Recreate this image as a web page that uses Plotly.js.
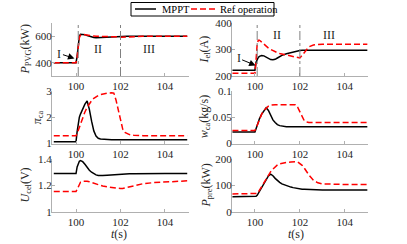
<!DOCTYPE html>
<html>
<head>
<meta charset="utf-8">
<script src="https://cdn.plot.ly/plotly-3.0.1.min.js"></script>
<style>html,body{margin:0;padding:0;background:#fff;}#chart{width:407px;height:244px;}</style>
</head>
<body>
<div id="chart"></div>
<script>
// time axis (s)
var t = [99, 100, 100.05, 100.1, 100.15, 100.2, 100.3, 100.4, 100.5, 100.6, 100.7, 100.8, 100.9, 101, 101.1, 101.2, 101.4, 101.6, 101.7, 101.8, 101.9, 102, 102.1, 102.2, 102.3, 102.4, 102.6, 102.8, 103, 103.5, 104, 104.5, 105];
// P_PVG (kW)
var pPVG_mppt = [400, 400, 450, 540, 600, 615, 616, 612, 605, 598, 593, 590, 589, 590, 591, 593, 596, 598, 598.5, 599, 599.5, 600, 600, 600, 600, 600, 600, 600, 600, 600, 600, 600, 600];
var pPVG_ref  = [400, 400, 440, 520, 590, 608, 614, 612, 608, 605, 603, 601, 600, 600, 600, 600, 600, 600, 599, 598, 595, 592, 593, 596, 598, 599, 600, 600, 600, 600, 600, 600, 600];
// I_el (A)
var iEl_mppt = [222, 222, 252, 265, 270, 274, 277, 276, 271, 266, 262, 261, 263, 268, 273, 278, 284, 289, 291, 293, 294, 296, 297, 297, 297, 297, 297, 297, 297, 297, 297, 297, 297];
var iEl_ref  = [210, 210, 260, 320, 335, 335, 328, 320, 312, 305, 300, 295, 291, 288, 285, 283, 279, 276, 274, 272, 270, 268, 278, 290, 302, 310, 317, 319, 320, 320, 320, 320, 320];
// pi_ca
var piCa_mppt = [1.07, 1.07, 1.45, 1.85, 2.0, 2.12, 2.35, 2.5, 2.62, 2.3, 1.85, 1.48, 1.28, 1.2, 1.17, 1.16, 1.15, 1.14, 1.14, 1.14, 1.14, 1.14, 1.14, 1.14, 1.14, 1.14, 1.14, 1.14, 1.14, 1.14, 1.14, 1.14, 1.14];
var piCa_ref  = [1.3, 1.3, 1.38, 1.5, 1.62, 1.75, 1.98, 2.2, 2.38, 2.52, 2.63, 2.72, 2.78, 2.83, 2.86, 2.89, 2.92, 2.93, 2.92, 2.65, 2.25, 1.83, 1.55, 1.42, 1.37, 1.34, 1.31, 1.3, 1.3, 1.3, 1.3, 1.3, 1.3];
// w_ca (kg/s)
var wCa_mppt = [0.022, 0.022, 0.028, 0.035, 0.041, 0.047, 0.056, 0.063, 0.068, 0.063, 0.053, 0.045, 0.04, 0.036, 0.034, 0.033, 0.032, 0.032, 0.032, 0.032, 0.032, 0.032, 0.032, 0.032, 0.032, 0.032, 0.032, 0.032, 0.032, 0.032, 0.032, 0.032, 0.032];
var wCa_ref  = [0.025, 0.025, 0.029, 0.035, 0.041, 0.047, 0.056, 0.063, 0.068, 0.071, 0.073, 0.074, 0.074, 0.074, 0.074, 0.074, 0.074, 0.074, 0.074, 0.074, 0.069, 0.06, 0.05, 0.043, 0.041, 0.04, 0.04, 0.04, 0.04, 0.04, 0.04, 0.04, 0.04];
// U_cel (V)
var uCel_mppt = [1.29, 1.29, 1.34, 1.37, 1.383, 1.388, 1.38, 1.36, 1.335, 1.315, 1.3, 1.288, 1.28, 1.275, 1.274, 1.275, 1.278, 1.281, 1.283, 1.284, 1.285, 1.286, 1.286, 1.287, 1.287, 1.288, 1.288, 1.289, 1.289, 1.29, 1.29, 1.29, 1.29];
var uCel_ref  = [1.155, 1.155, 1.17, 1.19, 1.21, 1.225, 1.233, 1.235, 1.232, 1.228, 1.222, 1.216, 1.21, 1.205, 1.2, 1.196, 1.19, 1.185, 1.182, 1.18, 1.178, 1.177, 1.178, 1.182, 1.187, 1.192, 1.2, 1.207, 1.213, 1.222, 1.228, 1.232, 1.235];
// P_pre (kW)
var pPre_mppt = [58, 58, 59, 63, 70, 78, 95, 110, 124, 136, 143, 137, 127, 118, 112, 106, 99, 94, 92, 90, 88.5, 87, 86, 85.5, 85, 84.5, 84, 83.5, 83, 83, 83, 83, 83];
var pPre_ref  = [68, 68, 68, 70, 75, 82, 97, 112, 126, 143, 152, 162, 172, 178, 182, 184, 187, 189, 190, 190, 189, 184, 176, 165, 152, 140, 120, 110, 106, 104, 104, 104, 104];

// operating phases
var phaseBounds = [100.1, 102];
var phaseLabels = ['I', 'II', 'III'];
var phaseLabelT = [101.0, 103.3];
var phaseLabelY_top = [505, 505];
var phaseLabelY_iel = [355, 355];
var arrowTip_top = [99.93, 432];
var arrowTip_iel = [100.03, 240];

var seriesNames = ['MPPT', 'Ref operation'];
var tickX = [100, 102, 104];
var yTicks = {y: [400, 600], y2: [200, 300, 400], y3: [1, 2, 3], y4: [0, 0.05, 0.1], y5: [1, 1.2, 1.4], y6: [0, 100, 200]};
var yRanges = {y: [300, 700], y2: [200, 400], y3: [1, 3], y4: [0, 0.1], y5: [1, 1.4], y6: [0, 200]};
var yTitles = {
  y: '<i>P</i><sub>PVG</sub>(kW)', y2: '<i>I</i><sub>el</sub>(A)', y3: '<i>π</i><sub>ca</sub>',
  y4: '<i>w</i><sub>ca</sub>(kg/s)', y5: '<i>U</i><sub>cel</sub>(V)', y6: '<i>P</i><sub>pre</sub>(kW)'
};
var xTitle = '<i>t</i>(s)';

var FONT = 'Liberation Serif, Times New Roman, serif';
var black = {color: '#000000', width: 1.5};
var red = {color: '#ff0000', width: 1.5, dash: '6px,3px'};

var panels = [
  ['x', 'y', pPVG_mppt, pPVG_ref], ['x2', 'y2', iEl_mppt, iEl_ref],
  ['x3', 'y3', piCa_mppt, piCa_ref], ['x4', 'y4', wCa_mppt, wCa_ref],
  ['x5', 'y5', uCel_mppt, uCel_ref], ['x6', 'y6', pPre_mppt, pPre_ref]
];
var data = [];
panels.forEach(function (p) {
  data.push({x: t, y: p[2], xaxis: p[0], yaxis: p[1], type: 'scatter', mode: 'lines', line: black, name: seriesNames[0], showlegend: false});
  data.push({x: t, y: p[3], xaxis: p[0], yaxis: p[1], type: 'scatter', mode: 'lines', line: red, name: seriesNames[1], showlegend: false});
});

var W = 407, H = 244;
function px(v) { return v / W; }
function py(v) { return 1 - v / H; }
var colX = [[52 / W, 189 / W], [232 / W, 368 / W]];
var xRng = [[98.92, 105.08], [98.98, 105.03]];
var rowPx = [[23, 76], [91, 143.5], [159, 212]];
var rowY = rowPx.map(function (r) { return [py(r[1]), py(r[0])]; });
var yTitleX = {y: 25, y2: 204, y3: 38, y4: 205, y5: 25, y6: 206};
var xTitleX = [119, 296];

var layout = {
  width: W, height: H, margin: {l: 0, r: 0, t: 0, b: 0},
  paper_bgcolor: '#ffffff', plot_bgcolor: '#ffffff',
  font: {family: FONT, size: 11, color: '#262626'}, showlegend: false,
  shapes: [], annotations: []
};

var axNames = ['', '2', '3', '4', '5', '6'];
axNames.forEach(function (s, i) {
  var col = i % 2, row = Math.floor(i / 2);
  var yk = 'y' + s;
  layout['xaxis' + s] = {
    domain: colX[col], range: xRng[col], anchor: yk, tickvals: tickX,
    showline: true, linecolor: '#b0b0b0', linewidth: 1, mirror: false,
    ticks: 'inside', ticklen: 3, tickcolor: '#b0b0b0', showgrid: false, zeroline: false,
    tickfont: {family: FONT, size: 11, color: '#262626'}
  };
  layout['yaxis' + s] = {
    domain: rowY[row], range: yRanges[yk], anchor: 'x' + s, tickvals: yTicks[yk],
    showline: true, linecolor: '#b0b0b0', linewidth: 1, mirror: false,
    ticks: 'inside', ticklen: 3, tickcolor: '#b0b0b0', showgrid: false, zeroline: false,
    ticklabelstandoff: -3, tickfont: {family: FONT, size: 11, color: '#262626'}
  };
  // axis titles as rotated text
  layout.annotations.push({xref: 'paper', yref: 'paper', x: px(yTitleX[yk]),
    y: py((rowPx[row][0] + rowPx[row][1]) / 2), xanchor: 'center', yanchor: 'middle',
    textangle: -90, text: yTitles[yk], showarrow: false,
    font: {family: FONT, size: 12, color: '#262626'}});
  if (row === 2) {
    layout.annotations.push({xref: 'paper', yref: 'paper', x: px(xTitleX[col]), y: py(233.5),
      xanchor: 'center', yanchor: 'middle', text: xTitle, showarrow: false,
      font: {family: FONT, size: 12, color: '#262626'}});
  }
});

// phase boundary lines on top panels
[['x', 'y'], ['x2', 'y2']].forEach(function (a) {
  phaseBounds.forEach(function (b) {
    layout.shapes.push({type: 'line', xref: a[0], yref: a[1] + ' domain', x0: b, x1: b, y0: 0, y1: 1,
      line: {color: '#808080', width: 1, dash: 'dashdot'}});
  });
});

function phaseAnn(xr, yr, tip, ys, ax, ay) {
  layout.annotations.push({xref: xr, yref: yr, x: tip[0], y: tip[1], text: phaseLabels[0],
    showarrow: true, arrowhead: 2, arrowsize: 1.3, arrowwidth: 1, arrowcolor: '#000000',
    ax: ax, ay: ay, standoff: 0, startstandoff: 0, font: {family: FONT, size: 12, color: '#262626'}});
  for (var k = 0; k < 2; k++) {
    layout.annotations.push({xref: xr, yref: yr, x: phaseLabelT[k], y: ys[k], text: phaseLabels[k + 1],
      showarrow: false, font: {family: FONT, size: 12, color: '#262626'}});
  }
}
phaseAnn('x', 'y', arrowTip_top, phaseLabelY_top, -15, -5);
phaseAnn('x2', 'y2', arrowTip_iel, phaseLabelY_iel, -17, -7);

// legend box (paper space)
layout.shapes.push({type: 'rect', xref: 'paper', yref: 'paper', x0: px(131), x1: px(274), y0: py(16), y1: py(2.5), line: {color: '#000000', width: 1}, fillcolor: '#ffffff'});
layout.shapes.push({type: 'line', xref: 'paper', yref: 'paper', x0: px(135), x1: px(156), y0: py(9), y1: py(9), line: black});
layout.shapes.push({type: 'line', xref: 'paper', yref: 'paper', x0: px(191), x1: px(217), y0: py(9), y1: py(9), line: red});
layout.annotations.push({xref: 'paper', yref: 'paper', x: px(160), y: py(9.3), xanchor: 'left', yanchor: 'middle', text: seriesNames[0], showarrow: false, font: {family: FONT, size: 10.5, color: '#000000'}});
layout.annotations.push({xref: 'paper', yref: 'paper', x: px(218), y: py(9.3), xanchor: 'left', yanchor: 'middle', text: seriesNames[1], showarrow: false, font: {family: FONT, size: 10.5, color: '#000000'}});

Plotly.newPlot('chart', data, layout, {staticPlot: true, displayModeBar: false});
</script>
</body>
</html>
